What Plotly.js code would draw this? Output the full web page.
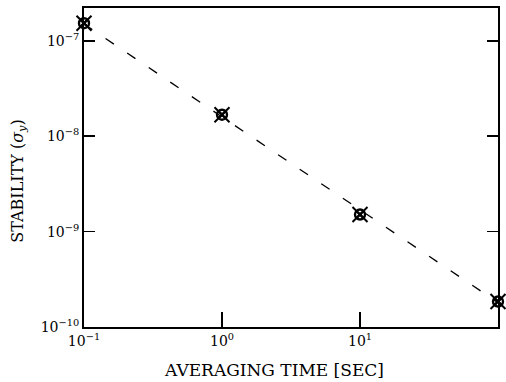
<!DOCTYPE html>
<html>
<head>
<meta charset="utf-8">
<script src="https://cdn.plot.ly/plotly-3.0.1.min.js"></script>
<style>html,body{margin:0;padding:0;background:#fff;}#chart{width:506px;height:382px;}</style>
</head>
<body>
<div id="chart"></div>
<script>
// Data
const tau = [0.1, 1, 10, 100];
const stability = [1.53e-7, 1.68e-8, 1.51e-9, 1.85e-10];
const fitTau = [0.1, 100];
const fitStability = [1.5e-7, 1.8e-10];
const xTickVals = [0.1, 1, 10, 100];
const xTickText = ['10<sup>−1</sup>', '10<sup>0</sup>', '10<sup>1</sup>', '10<sup>2</sup>'];
const yTickVals = [1e-10, 1e-9, 1e-8, 1e-7];
const yTickText = ['10<sup>−10</sup>', '10<sup>−9</sup>', '10<sup>−8</sup>', '10<sup>−7</sup>'];
const xTitle = 'AVERAGING TIME [SEC]';
const yTitle = 'STABILITY (<i>σ<sub>y</sub></i>)';

const serif = '"DejaVu Serif", "Liberation Serif", serif';

const traces = [
  {x: fitTau, y: fitStability, mode: 'lines', type: 'scatter', cliponaxis: false,
   line: {color: '#000', width: 1.3, dash: '10px,16px'}, hoverinfo: 'skip'},
  {x: tau, y: stability, mode: 'markers', type: 'scatter', cliponaxis: false,
   marker: {symbol: 'x-thin-open', size: 15, color: '#000', line: {width: 2, color: '#000'}}},
  {x: tau, y: stability, mode: 'markers', type: 'scatter', cliponaxis: false,
   marker: {symbol: 'circle-x-open', size: 10, color: '#000', line: {width: 2.4, color: '#000'}}}
];

const layout = {
  width: 506, height: 382,
  margin: {l: 84, r: 8, t: 8, b: 55},
  paper_bgcolor: '#fff', plot_bgcolor: '#fff',
  showlegend: false,
  font: {family: serif, color: '#000', size: 14},
  xaxis: {
    type: 'log', range: [-1, 2],
    tickvals: xTickVals, ticktext: xTickText,
    ticks: 'inside', ticklen: 15, tickwidth: 1.5, tickcolor: '#000',
    showline: true, linecolor: '#000', linewidth: 2, mirror: true,
    showgrid: false, zeroline: false,
    tickfont: {family: serif, size: 14, color: '#000'}
  },
  yaxis: {
    type: 'log', range: [-10, -6.656],
    tickvals: yTickVals, ticktext: yTickText,
    ticks: 'inside', ticklen: 11, tickwidth: 1.5, tickcolor: '#000',
    showline: true, linecolor: '#000', linewidth: 2, mirror: 'ticks',
    showgrid: false, zeroline: false,
    tickfont: {family: serif, size: 14, color: '#000'}
  },
  annotations: [
    {text: xTitle, xref: 'paper', yref: 'paper', x: 0.459, y: -0.134,
     xanchor: 'center', yanchor: 'middle', showarrow: false,
     font: {family: serif, size: 17, color: '#000'}},
    {text: yTitle, xref: 'paper', yref: 'paper', x: -0.159, y: 0.456,
     xanchor: 'center', yanchor: 'middle', textangle: -90, showarrow: false,
     font: {family: serif, size: 16, color: '#000'}}
  ]
};

Plotly.newPlot('chart', traces, layout, {staticPlot: true, displayModeBar: false});
</script>
</body>
</html>
